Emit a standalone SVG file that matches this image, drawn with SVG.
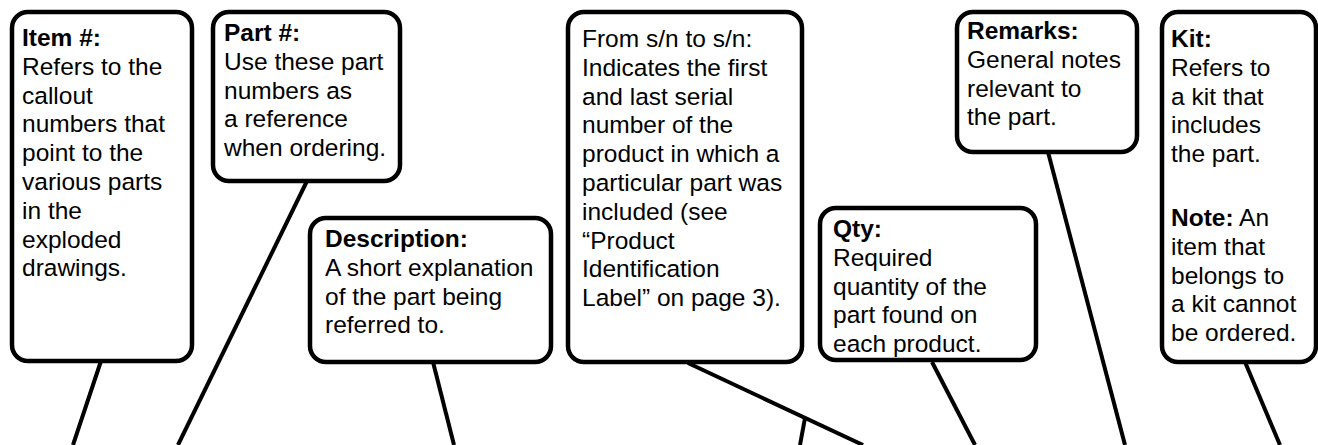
<svg xmlns="http://www.w3.org/2000/svg" width="1318" height="445" viewBox="0 0 1318 445">
<style>
.box{fill:#fff;stroke:#000;stroke-width:4.5}
.t{font-family:"Liberation Sans",Arial,sans-serif;font-size:24.5px;fill:#000}
.b{font-weight:bold}
.c{stroke:#000;stroke-width:4;fill:none}
</style>
<rect width="1318" height="445" fill="#fff"/>
<g id="connectors">
<line class="c" x1="101" y1="361" x2="73" y2="445"/>
<line class="c" x1="307" y1="181" x2="178" y2="445"/>
<line class="c" x1="433" y1="362" x2="454" y2="445"/>
<line class="c" x1="688" y1="363" x2="863" y2="445"/>
<line class="c" x1="805" y1="418" x2="800" y2="445"/>
<line class="c" x1="932" y1="362" x2="975" y2="445"/>
<line class="c" x1="1048" y1="152" x2="1125" y2="445"/>
<line class="c" x1="1245" y1="362" x2="1280" y2="445"/>
</g>
<g id="item">
<rect class="box" x="12" y="12" width="180" height="349" rx="16"/>
<text class="t" x="22" y="46"><tspan class="b">Item #:</tspan><tspan x="22" dy="28.8">Refers to the</tspan><tspan x="22" dy="28.8">callout</tspan><tspan x="22" dy="28.8">numbers that</tspan><tspan x="22" dy="28.8">point to the</tspan><tspan x="22" dy="28.8">various parts</tspan><tspan x="22" dy="28.8">in the</tspan><tspan x="22" dy="28.8">exploded</tspan><tspan x="22" dy="28.8">drawings.</tspan></text>
</g>
<g id="part">
<rect class="box" x="213" y="12" width="187" height="169" rx="16"/>
<text class="t" x="224" y="41"><tspan class="b">Part #:</tspan><tspan x="224" dy="28.8">Use these part</tspan><tspan x="224" dy="28.8">numbers as</tspan><tspan x="224" dy="28.8">a reference</tspan><tspan x="224" dy="28.8">when ordering.</tspan></text>
</g>
<g id="description">
<rect class="box" x="310" y="218" width="241" height="144" rx="16"/>
<text class="t" x="325" y="247"><tspan class="b">Description:</tspan><tspan x="325" dy="28.8">A short explanation</tspan><tspan x="325" dy="28.8">of the part being</tspan><tspan x="325" dy="28.8">referred to.</tspan></text>
</g>
<g id="serial">
<rect class="box" x="568" y="12" width="234" height="350" rx="16"/>
<text class="t" x="582" y="47"><tspan>From s/n to s/n:</tspan><tspan x="582" dy="28.8">Indicates the first</tspan><tspan x="582" dy="28.8">and last serial</tspan><tspan x="582" dy="28.8">number of the</tspan><tspan x="582" dy="28.8">product in which a</tspan><tspan x="582" dy="28.8">particular part was</tspan><tspan x="582" dy="28.8">included (see</tspan><tspan x="582" dy="28.8">“Product</tspan><tspan x="582" dy="28.8">Identification</tspan><tspan x="582" dy="28.8">Label” on page 3).</tspan></text>
</g>
<g id="qty">
<rect class="box" x="820" y="208" width="216" height="152" rx="16"/>
<text class="t" x="833" y="237"><tspan class="b">Qty:</tspan><tspan x="833" dy="28.8">Required</tspan><tspan x="833" dy="28.8">quantity of the</tspan><tspan x="833" dy="28.8">part found on</tspan><tspan x="833" dy="28.8">each product.</tspan></text>
</g>
<g id="remarks">
<rect class="box" x="957" y="12" width="180" height="140" rx="16"/>
<text class="t" x="967" y="39"><tspan class="b">Remarks:</tspan><tspan x="967" dy="28.8">General notes</tspan><tspan x="967" dy="28.8">relevant to</tspan><tspan x="967" dy="28.8">the part.</tspan></text>
</g>
<g id="kit">
<rect class="box" x="1162" y="12" width="154" height="350" rx="16"/>
<text class="t" x="1171" y="47"><tspan class="b">Kit:</tspan><tspan x="1171" dy="28.8">Refers to</tspan><tspan x="1171" dy="28.8">a kit that</tspan><tspan x="1171" dy="28.8">includes</tspan><tspan x="1171" dy="28.8">the part.</tspan><tspan x="1171" y="226" class="b">Note:</tspan><tspan> An</tspan><tspan x="1171" dy="28.8">item that</tspan><tspan x="1171" dy="28.8">belongs to</tspan><tspan x="1171" dy="28.8">a kit cannot</tspan><tspan x="1171" dy="28.8">be ordered.</tspan></text>
</g>
</svg>
